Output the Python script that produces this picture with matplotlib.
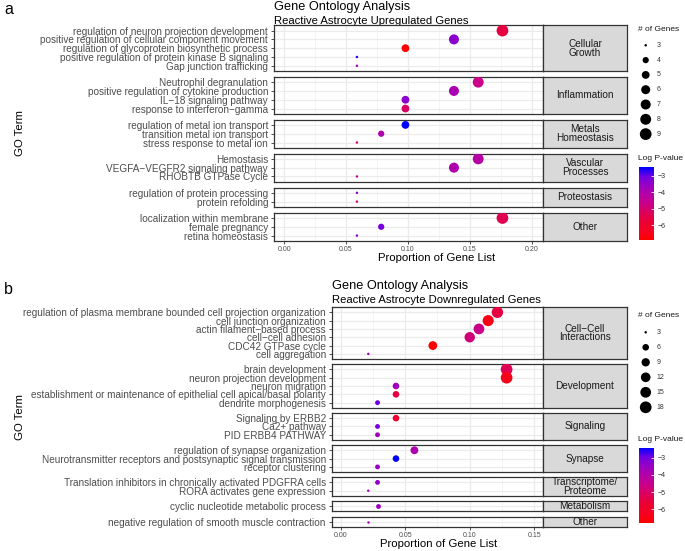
import numpy as np
import matplotlib.pyplot as plt
from matplotlib.colors import LinearSegmentedColormap, Normalize
from matplotlib.cm import ScalarMappable

plt.rcParams['font.family'] = ['Liberation Sans', 'DejaVu Sans']

W, H = 685, 551

# ---------------- data: upregulated (panel a)
up_groups = ["Cellular\nGrowth", "Inflammation", "Metals\nHomeostasis",
             "Vascular\nProcesses", "Proteostasis", "Other"]
up_terms = [
    ["regulation of neuron projection development",
     "positive regulation of cellular component movement",
     "regulation of glycoprotein biosynthetic process",
     "positive regulation of protein kinase B signaling",
     "Gap junction trafficking"],
    ["Neutrophil degranulation",
     "positive regulation of cytokine production",
     "IL\u221218 signaling pathway",
     "response to interferon\u2212gamma"],
    ["regulation of metal ion transport",
     "transition metal ion transport",
     "stress response to metal ion"],
    ["Hemostasis",
     "VEGFA\u2212VEGFR2 signaling pathway",
     "RHOBTB GTPase Cycle"],
    ["regulation of protein processing",
     "protein refolding"],
    ["localization within membrane",
     "female pregnancy",
     "retina homeostasis"],
]
up_counts = [[9, 7, 5, 3, 3], [8, 7, 5, 5], [5, 4, 3], [8, 7, 3], [3, 3], [9, 4, 3]]
up_logp = [[-5.58, -3.37, -6.9, -2.62, -3.72], [-4.70, -3.90, -3.37, -5.14],
           [-2.49, -4.03, -4.92], [-4.17, -3.99, -4.47], [-3.46, -4.92],
           [-5.36, -3.11, -3.20]]
up_total = 51
up_xticks = [0.0, 0.05, 0.10, 0.15, 0.20]
up_size_breaks = [3, 4, 5, 6, 7, 8, 9]

# ---------------- data: downregulated (panel b)
down_groups = ["Cell\u2212Cell\nInteractions", "Development", "Signaling", "Synapse",
               "Transcriptome/\nProteome", "Metabolism", "Other"]
down_terms = [
    ["regulation of plasma membrane bounded cell projection organization",
     "cell junction organization",
     "actin filament\u2212based process",
     "cell\u2212cell adhesion",
     "CDC42 GTPase cycle",
     "cell aggregation"],
    ["brain development",
     "neuron projection development",
     "neuron migration",
     "establishment or maintenance of epithelial cell apical/basal polarity",
     "dendrite morphogenesis"],
    ["Signaling by ERBB2",
     "Ca2+ pathway",
     "PID ERBB4 PATHWAY"],
    ["regulation of synapse organization",
     "Neurotransmitter receptors and postsynaptic signal transmission",
     "receptor clustering"],
    ["Translation inhibitors in chronically activated PDGFRA cells",
     "RORA activates gene expression"],
    ["cyclic nucleotide metabolic process"],
    ["negative regulation of smooth muscle contraction"],
]
down_counts = [[17, 16, 15, 14, 10, 3], [18, 18, 6, 6, 4], [6, 4, 4], [8, 6, 4], [4, 3], [4], [3]]
down_logp = [[-5.47, -6.43, -4.60, -4.82, -6.78, -3.64],
             [-5.25, -6.34, -3.64, -5.47, -2.94],
             [-5.82, -3.03, -3.64], [-3.90, -2.42, -3.51], [-3.38, -3.64],
             [-3.55], [-3.64]]
down_total = 140
down_xticks = [0.0, 0.05, 0.10, 0.15]
down_size_breaks = [3, 6, 9, 12, 15, 18]

cbar_ticks = [-3, -4, -5, -6]

# ggplot red -> blue gradient (Lab interpolated)
cmap = LinearSegmentedColormap.from_list(
    "rb", ["#FF0000", "#F50021", "#EB0033", "#DD005A", "#CA0089",
           "#B500A5", "#9A00C2", "#7300E0", "#0000FF"])

fig = plt.figure(figsize=(W / 100, H / 100), dpi=100)


def ax_px(x0, y0, x1, y1):
    return fig.add_axes([x0 / W, 1 - y1 / H, (x1 - x0) / W, (y1 - y0) / H])


ov = ax_px(0, 0, W, H)
ov.set_xlim(0, W)
ov.set_ylim(H, 0)
ov.axis('off')


def dot_px(v, vmin, vmax):
    t = (np.asarray(v, float) - vmin) / (vmax - vmin)
    return 0.65 * (2.845 * (1 + 5 * np.sqrt(t)) + 0.945)


def draw_panel(groups, terms, counts, logp, total, xlim, xticks, top, unit, gap,
               x0, x1, xs, size_breaks, title_y, letter, letter_y, cb_box,
               size_y0, size_step, legend_title_y, cb_title_y, xlab_x):
    vmin = min(min(l) for l in logp)
    vmax = max(max(l) for l in logp)
    cmin = min(min(c) for c in counts)
    cmax = max(max(c) for c in counts)
    norm = Normalize(vmin, vmax)
    y = top
    for gi, grp in enumerate(groups):
        n = len(terms[gi])
        h = (n + 0.2) * unit
        ax = ax_px(x0, y, x1, y + h)
        ax.set_xlim(*xlim)
        ax.set_ylim(n - 0.4, -0.6)
        for xt in xticks:
            ax.axvline(xt, color='#EBEBEB', lw=0.9, zorder=0)
        for xm in np.array(xticks[:-1]) + 0.025:
            ax.axvline(xm, color='#F2F2F2', lw=0.5, zorder=0)
        if xticks[-1] + 0.025 < xlim[1]:
            ax.axvline(xticks[-1] + 0.025, color='#F2F2F2', lw=0.5, zorder=0)
        for r in range(n):
            ax.axhline(r, color='#EBEBEB', lw=0.9, zorder=0)
        prop = np.array(counts[gi]) / total
        d = dot_px(counts[gi], cmin, cmax) * 0.72
        ax.scatter(prop, np.arange(n), s=d ** 2, c=logp[gi], cmap=cmap, norm=norm,
                   linewidths=0, zorder=3)
        ax.set_yticks(range(n))
        ax.set_yticklabels(terms[gi], fontsize=7.2, color='#4D4D4D')
        ax.tick_params(axis='y', length=2, width=0.6, color='#333333', pad=2.5)
        for sp in ax.spines.values():
            sp.set_color('#333333')
            sp.set_linewidth(0.9)
        if gi == len(groups) - 1:
            ax.set_xticks(xticks)
            ax.set_xticklabels([f"{v:.2f}" for v in xticks], fontsize=5, color='#4D4D4D')
            ax.tick_params(axis='x', length=2, width=0.6, color='#333333', pad=2)
        else:
            ax.set_xticks([])
        # facet strip
        st = ax_px(x1, y, xs, y + h)
        st.set_facecolor('#D9D9D9')
        st.set_xticks([])
        st.set_yticks([])
        for sp in st.spines.values():
            sp.set_color('#333333')
            sp.set_linewidth(0.9)
        st.text(0.5, 0.5, grp, ha='center', va='center', fontsize=7.2,
                color='#1A1A1A', linespacing=0.85, transform=st.transAxes, clip_on=True)
        y += h + gap
    bottom = y - gap

    # titles and labels
    ov.text(x0, title_y, "Gene Ontology Analysis", fontsize=9.2, va='center', ha='left')
    ov.text(x0, title_y + 14, "Reactive Astrocyte " + ("Upregulated" if letter == 'a' else "Downregulated") + " Genes",
            fontsize=8.15, va='center', ha='left')
    ov.text(8.5, letter_y, letter, fontsize=11.5, va='center', ha='center')
    ov.text(xlab_x, bottom + 17, "Proportion of Gene List", fontsize=8.2, ha='center', va='center')
    ov.text(20, (top + bottom) / 2, "GO Term", fontsize=8.2, rotation=90, ha='center', va='center')

    # size legend
    ov.text(638.3, legend_title_y, "# of Genes", fontsize=6, va='center', ha='left', color='#1A1A1A')
    ly = size_y0 + np.arange(len(size_breaks)) * size_step
    ov.scatter([645.7] * len(size_breaks), ly, s=(dot_px(size_breaks, cmin, cmax) * 0.72) ** 2,
               c='black', linewidths=0)
    for v, yy in zip(size_breaks, ly):
        ov.text(656.5, yy, str(v), fontsize=5, va='center', ha='left', color='#333333')

    # colour bar
    ov.text(638.3, cb_title_y, "Log P-value", fontsize=6, va='center', ha='left', color='#1A1A1A')
    cax = ax_px(*cb_box)
    cb = fig.colorbar(ScalarMappable(norm=norm, cmap=cmap), cax=cax)
    cb.outline.set_visible(False)
    cb.set_ticks(cbar_ticks)
    cax.tick_params(labelsize=5, length=2.5, width=0.6, color='white', direction='in',
                    pad=2.5, labelcolor='#333333')


draw_panel(up_groups, up_terms, up_counts, up_logp, up_total, (-0.008, 0.2095), up_xticks,
           top=25.3, unit=8.8, gap=5.8, x0=274.3, x1=543.3, xs=626.7,
           size_breaks=up_size_breaks, title_y=7, letter='a', letter_y=9,
           cb_box=(639.3, 167.3, 654, 240), size_y0=45.3, size_step=14.8,
           legend_title_y=29.3, cb_title_y=159, xlab_x=436.5)

draw_panel(down_groups, down_terms, down_counts, down_logp, down_total, (-0.0067, 0.157), down_xticks,
           top=307.3, unit=8.32, gap=5.5, x0=332, x1=543.3, xs=626.7,
           size_breaks=down_size_breaks, title_y=286, letter='b', letter_y=289,
           cb_box=(639.3, 447.7, 654, 522.7), size_y0=332.3, size_step=15,
           legend_title_y=315.7, cb_title_y=439.3, xlab_x=438.7)

fig.savefig("out.png", dpi=100)
